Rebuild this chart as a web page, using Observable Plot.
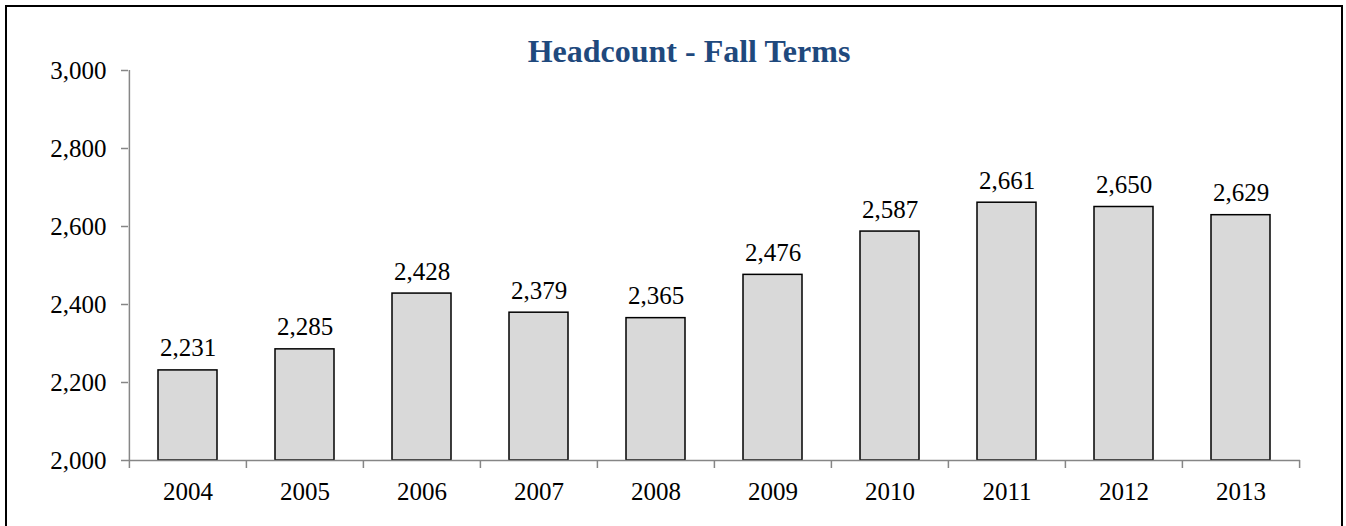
<!DOCTYPE html>
<html>
<head>
<meta charset="utf-8">
<script src="https://cdn.jsdelivr.net/npm/d3@7"></script>
<script src="https://cdn.jsdelivr.net/npm/@observablehq/plot@0.6"></script>
<style>
  html, body { margin: 0; padding: 0; background: #fff; overflow: hidden; }
  #wrap { position: relative; width: 1346px; height: 526px; overflow: hidden; }
  #border { position: absolute; left: 5px; top: 5px; width: 1334px; height: 700px; border: 2px solid #000; box-sizing: content-box; pointer-events: none; }
  #title { position: absolute; left: 689px; top: 35px; transform: translateX(-50%); font-family: "Liberation Serif", "Times New Roman", serif; font-weight: bold; font-size: 32px; line-height: 1; color: #1F497D; white-space: nowrap; }
  #chart { position: absolute; left: 0; top: 0; }
</style>
</head>
<body>
<div id="wrap">
  <div id="chart"></div>
  <div id="title">Headcount - Fall Terms</div>
  <div id="border"></div>
</div>
<script>
const years = ["2004", "2005", "2006", "2007", "2008", "2009", "2010", "2011", "2012", "2013"];
const headcount = [2231, 2285, 2428, 2379, 2365, 2476, 2587, 2661, 2650, 2629];
const yTicks = [2000, 2200, 2400, 2600, 2800, 3000];
const yDomain = [2000, 3000];

const data = years.map((y, i) => ({year: y, value: headcount[i]}));

const W = 1346, H = 526, ML = 128, MR = 46, MT = 70, MB = 66;
const step = (W - ML - MR) / years.length;
const half = step / 2;
const axisGray = "#868686";
const fmt = d3.format(",");
const FS = 25;
const FONT = "Liberation Serif, Times New Roman, serif";

const plot = Plot.plot({
  width: W,
  height: H,
  marginLeft: ML,
  marginRight: MR,
  marginTop: MT,
  marginBottom: MB,
  style: {fontFamily: FONT, fontSize: FS + "px", color: "#000", background: "transparent", overflow: "visible"},
  x: {domain: years, paddingInner: 0.5, paddingOuter: 0.25, label: null},
  y: {domain: yDomain, label: null},
  marks: [
    Plot.barY(data, {x: "year", y1: yDomain[0], y2: "value", fill: "#D9D9D9", stroke: "#000", strokeWidth: 1.5}),
    Plot.text(data, {x: "year", y: "value", text: d => fmt(d.value), dy: -14, lineAnchor: "bottom", fontSize: FS, fontFamily: FONT, fill: "#000"}),
    Plot.ruleY([yDomain[0]], {stroke: axisGray, strokeWidth: 1.5}),
    Plot.ruleX([years[0]], {y1: yDomain[0], y2: yDomain[1], dx: -half, stroke: axisGray, strokeWidth: 1.5}),
    Plot.axisY({ticks: yTicks, tickFormat: fmt, tickSize: 7, tickPadding: 15, stroke: axisGray, fill: "#000", strokeWidth: 1.5, fontSize: FS, fontFamily: FONT, label: null}),
    Plot.axisX({tickSize: 0, tickPadding: 22, fill: "#000", fontSize: FS, fontFamily: FONT, label: null}),
    Plot.axisX({tickSize: 8, tickPadding: 0, dx: -half, tickFormat: () => "", stroke: axisGray, strokeWidth: 1.5, label: null}),
    Plot.axisX({ticks: [years[years.length - 1]], tickSize: 8, tickPadding: 0, dx: half, tickFormat: () => "", stroke: axisGray, strokeWidth: 1.5, label: null})
  ]
});
document.getElementById("chart").appendChild(plot);
</script>
</body>
</html>
